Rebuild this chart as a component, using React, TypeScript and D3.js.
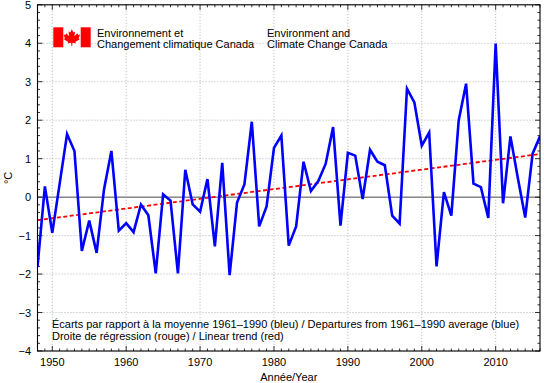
import React from "react";
import * as d3 from "d3";

const years: number[] = d3.range(1948, 2017);
const anomalies: number[] = [
  -1.81, 0.28, -0.93, 0.35, 1.64, 1.2, -1.4, -0.61, -1.45, 0.2,
  1.2, -0.87, -0.68, -0.91, -0.19, -0.47, -1.98, 0.07, -0.09, -1.98,
  0.71, -0.19, -0.38, 0.47, -1.28, 0.89, -2.03, -0.14, 0.33, 1.96,
  -0.76, -0.24, 1.28, 1.6, -1.26, -0.76, 0.92, 0.16, 0.42, 0.87,
  1.82, -0.74, 1.15, 1.08, -0.05, 1.23, 0.92, 0.83, -0.48, -0.69,
  2.82, 2.46, 1.34, 1.68, -1.8, 0.13, -0.48, 2.0, 2.95, 0.35,
  0.26, -0.54, 3.99, -0.16, 1.58, 0.5, -0.53, 1.13, 1.58,
];
const trendYears: number[] = [1948, 2016];
const trendValues: number[] = [-0.6, 1.12];
const xTicks: number[] = [1950, 1960, 1970, 1980, 1990, 2000, 2010];
const yTicks: number[] = [-4, -3, -2, -1, 0, 1, 2, 3, 4, 5];

const W = 544;
const H = 383;
const left = 37.5;
const right = 540;
const top = 4.8;
const bottom = 351;
const FONT = "'Liberation Sans', Arial, Helvetica, sans-serif";

const leafPts: [number, number][] = [
  [0, -0.5], [0.1, -0.3], [0.2, -0.36], [0.16, -0.08], [0.34, -0.26], [0.39, -0.15],
  [0.5, -0.18], [0.42, 0.05], [0.48, 0.1], [0.22, 0.28], [0.25, 0.37], [0.035, 0.32],
  [0.035, 0.5], [-0.035, 0.5], [-0.035, 0.32], [-0.25, 0.37], [-0.22, 0.28], [-0.48, 0.1],
  [-0.42, 0.05], [-0.5, -0.18], [-0.39, -0.15], [-0.34, -0.26], [-0.16, -0.08], [-0.2, -0.36],
  [-0.1, -0.3],
];

export default function App() {
  const x = d3.scaleLinear().domain([1948, 2016]).range([left, right]);
  const y = d3.scaleLinear().domain([-4, 5]).range([bottom, top]);
  const line = d3
    .line<number>()
    .x((_, i) => x(years[i]))
    .y((d) => y(d));
  const trendLine = d3
    .line<number>()
    .x((_, i) => x(trendYears[i]))
    .y((d) => y(d));

  const minorX = d3.range(1948, 2017);
  const minorY = d3.range(-4, 5.001, 0.2);

  const leafCx = 71.8;
  const leafCy = 37.5;
  const leafS = 16.5;
  const leafPath =
    "M" + leafPts.map(([a, b]) => `${leafCx + a * leafS},${leafCy + b * leafS}`).join("L") + "Z";

  return (
    <svg
      width={W}
      height={H}
      style={{ position: "absolute", left: 0, top: 0, background: "#fff" }}
      fontFamily={FONT}
    >
      <rect x={0} y={0} width={W} height={H} fill="#fff" />
      <defs>
        <clipPath id="plotClip">
          <rect x={left} y={top - 3} width={right - left} height={bottom - top + 6} />
        </clipPath>
      </defs>
      {/* grid */}
      {xTicks.map((t) => (
        <line key={"gx" + t} x1={x(t)} x2={x(t)} y1={top} y2={bottom} stroke="#a0a0a0" strokeWidth={0.8} strokeDasharray="1,2" />
      ))}
      {yTicks.map((t) => (
        <line key={"gy" + t} x1={left} x2={right} y1={y(t)} y2={y(t)} stroke="#a0a0a0" strokeWidth={0.8} strokeDasharray="1,2" />
      ))}
      {/* zero line */}
      <line x1={left} x2={right} y1={y(0)} y2={y(0)} stroke="#888" strokeWidth={1.5} />
      {/* ticks */}
      {minorX.map((t) => {
        const major = t % 10 === 0;
        const len = major ? 5 : 2.5;
        return (
          <g key={"tx" + t}>
            <line x1={x(t)} x2={x(t)} y1={bottom} y2={bottom - len} stroke="#000" strokeWidth={0.8} />
            <line x1={x(t)} x2={x(t)} y1={top} y2={top + len} stroke="#000" strokeWidth={0.8} />
          </g>
        );
      })}
      {minorY.map((t, i) => {
        const major = i % 5 === 0;
        const len = major ? 5 : 2.5;
        return (
          <g key={"ty" + i}>
            <line x1={left} x2={left + len} y1={y(t)} y2={y(t)} stroke="#000" strokeWidth={0.8} />
            <line x1={right} x2={right - len} y1={y(t)} y2={y(t)} stroke="#000" strokeWidth={0.8} />
          </g>
        );
      })}
      <g clipPath="url(#plotClip)">
        {/* trend */}
        <path d={trendLine(trendValues) || ""} fill="none" stroke="#ff0000" strokeWidth={1.8} strokeDasharray="4,2.5" />
        {/* series */}
        <path d={line(anomalies) || ""} fill="none" stroke="#0000ff" strokeWidth={2.6} strokeLinejoin="miter" />
      </g>
      {/* frame */}
      <rect x={left} y={top} width={right - left} height={bottom - top} fill="none" stroke="#000" strokeWidth={1.1} />
      {/* tick labels */}
      {xTicks.map((t) => (
        <text key={"lx" + t} x={x(t)} y={366} textAnchor="middle" fontSize={11} fill="#000">
          {t}
        </text>
      ))}
      {yTicks.map((t) => (
        <text key={"ly" + t} x={31} y={y(t) + 4} textAnchor="end" fontSize={11} fill="#000">
          {t < 0 ? "\u2212" + Math.abs(t) : String(t)}
        </text>
      ))}
      <text x={(left + right) / 2} y={381} textAnchor="middle" fontSize={11} fill="#000">
        Année/Year
      </text>
      <text transform={`translate(12,${(top + bottom) / 2}) rotate(-90)`} textAnchor="middle" fontSize={11} fill="#000">
        °C
      </text>
      {/* logo */}
      <rect x={53.3} y={27.3} width={37.4} height={20} fill="#fff" />
      <rect x={53.3} y={27.3} width={10} height={20} fill="#ff0000" />
      <rect x={80.7} y={27.3} width={10} height={20} fill="#ff0000" />
      <path d={leafPath} fill="#ff0000" />
      <text x={97} y={36.5} fontSize={11} fill="#000">Environnement et</text>
      <text x={97} y={47.5} fontSize={11} fill="#000">Changement climatique Canada</text>
      <text x={267} y={36.5} fontSize={11} fill="#000">Environment and</text>
      <text x={267} y={47.5} fontSize={11} fill="#000">Climate Change Canada</text>
      {/* notes */}
      <text x={52} y={328} fontSize={11} fill="#000">
        Écarts par rapport à la moyenne 1961–1990 (bleu) / Departures from 1961–1990 average (blue)
      </text>
      <text x={52} y={339.5} fontSize={11} fill="#000">
        Droite de régression (rouge) / Linear trend (red)
      </text>
    </svg>
  );
}
